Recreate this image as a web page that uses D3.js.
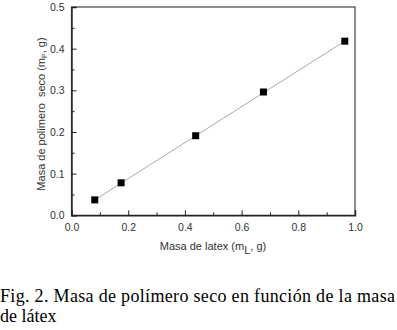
<!DOCTYPE html>
<html>
<head>
<meta charset="utf-8">
<script src="https://cdn.jsdelivr.net/npm/d3@7"></script>
<style>
  body { margin: 0; background: #fff; }
  svg { display: block; }
</style>
</head>
<body>
<svg id="chart"></svg>
<script>
// measured points (mL, mP)
const latexMass = [0.082, 0.175, 0.438, 0.677, 0.964]
const polymerMass = [0.037, 0.078, 0.191, 0.296, 0.418]
// linear fit segment
const fitX = [0.082, 0.964]
const fitY = [0.037, 0.418]
const xTicks = [0.0, 0.2, 0.4, 0.6, 0.8, 1.0]
const yTicks = [0.0, 0.1, 0.2, 0.3, 0.4, 0.5]
const captionLines = ["Fig. 2. Masa de polímero seco en función de la masa", "de látex"]

const width = 397, height = 330
const plot = { left: 71.5, top: 7, right: 355, bottom: 215.3 }

const svg = d3.select("#chart")
    .attr("width", width)
    .attr("height", height)

const x = d3.scaleLinear().domain([0, 1]).range([plot.left, plot.right])
const y = d3.scaleLinear().domain([0, 0.5]).range([plot.bottom, plot.top])

const axisColor = "#222"
const textColor = "#333"

// frame
svg.append("rect")
    .attr("x", plot.left).attr("y", plot.top)
    .attr("width", plot.right - plot.left)
    .attr("height", plot.bottom - plot.top)
    .attr("fill", "none")
    .attr("stroke", "#444")
    .attr("stroke-width", 1.2)

// x axis, ticks pointing inside
let xAxis = svg.append("g")
    .attr("transform", `translate(0,${plot.bottom})`)
    .call(d3.axisBottom(x).tickValues(xTicks).tickFormat(d3.format(".1f")).tickSize(-5).tickPadding(8))
xAxis.append("g")
    .call(d3.axisBottom(x).tickValues(d3.range(0.1, 1, 0.2)).tickFormat("").tickSize(-3))
    .select(".domain").remove()

let yAxis = svg.append("g")
    .attr("transform", `translate(${plot.left},0)`)
    .call(d3.axisLeft(y).tickValues(yTicks).tickFormat(d3.format(".1f")).tickSize(-5).tickPadding(7))
yAxis.append("g")
    .call(d3.axisLeft(y).tickValues(d3.range(0.05, 0.5, 0.1)).tickFormat("").tickSize(-3))
    .select(".domain").remove()

svg.selectAll(".domain").attr("stroke", axisColor).attr("stroke-width", 1.4)
svg.selectAll(".tick line").attr("stroke", axisColor).attr("stroke-width", 1)
svg.selectAll(".tick text")
    .attr("fill", textColor)
    .style("font-family", "Liberation Sans, Arial, sans-serif")
    .style("font-size", "10.5px")

// fit line
svg.append("line")
    .attr("x1", x(fitX[0])).attr("y1", y(fitY[0]))
    .attr("x2", x(fitX[1])).attr("y2", y(fitY[1]))
    .attr("stroke", "#aaa")
    .attr("stroke-width", 1)

// points
svg.append("g")
    .selectAll("rect")
    .data(latexMass.map((d, i) => [d, polymerMass[i]]))
    .enter()
    .append("rect")
    .attr("x", d => x(d[0]) - 3.5)
    .attr("y", d => y(d[1]) - 3.5)
    .attr("width", 7)
    .attr("height", 7)
    .attr("fill", "#000")

// axis titles
let xTitle = svg.append("text")
    .attr("x", 213).attr("y", 250)
    .attr("text-anchor", "middle")
    .attr("fill", textColor)
    .style("font-family", "Liberation Sans, Arial, sans-serif")
    .style("font-size", "11px")
xTitle.append("tspan").text("Masa de latex (m")
xTitle.append("tspan").attr("dy", 4).text("L")
xTitle.append("tspan").attr("dy", -4).text(", g)")

let yTitle = svg.append("text")
    .attr("transform", "translate(45,114) rotate(-90)")
    .attr("text-anchor", "middle")
    .attr("fill", textColor)
    .style("font-family", "Liberation Sans, Arial, sans-serif")
    .style("font-size", "11px")
yTitle.append("tspan").text("Masa de polimero  seco (m").attr("xml:space", "preserve")
yTitle.append("tspan").attr("dy", 2).style("font-size", "7px").text("P")
yTitle.append("tspan").attr("dy", -2).text(", g)")
yTitle.attr("xml:space", "preserve")

// caption
svg.append("g")
    .selectAll("text")
    .data(captionLines)
    .enter()
    .append("text")
    .attr("x", 0)
    .attr("y", (d, i) => 302 + i * 20)
    .attr("fill", "#000")
    .style("font-family", "Liberation Serif, Times New Roman, serif")
    .style("font-size", "18px")
    .attr("textLength", (d, i) => i == 0 ? 395 : null)
    .attr("lengthAdjust", "spacing")
    .text(d => d)
</script>
</body>
</html>
